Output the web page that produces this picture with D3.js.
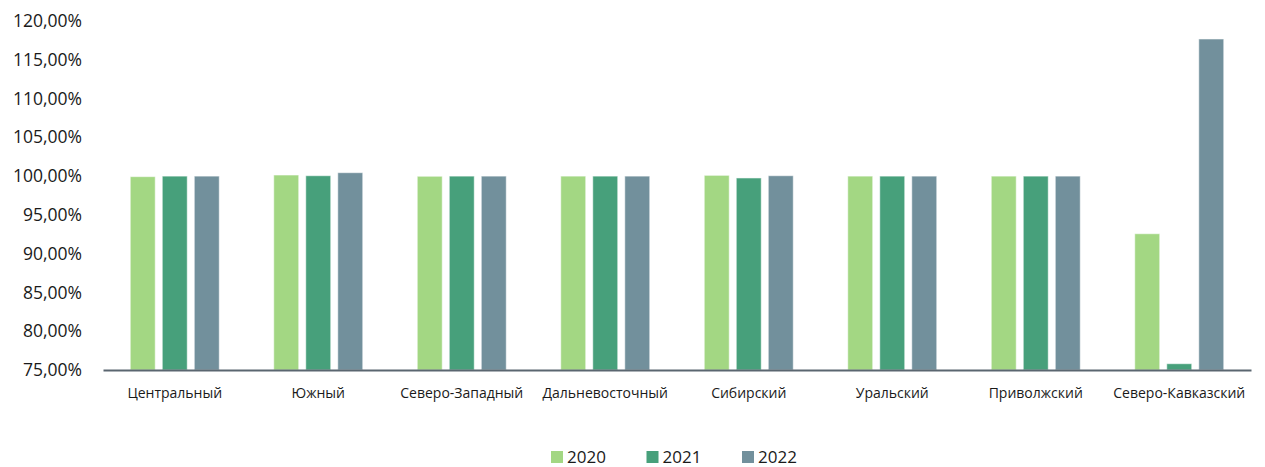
<html>
<head>
  <meta charset="utf-8">
  <title>Regions</title>
  <script src="https://d3js.org/d3.v7.min.js"></script>
  <style>
    body { margin: 0; background: #fff; }
    text { font-family: "Open Sans", sans-serif; fill: #1a1a1a; }
  </style>
</head>
<body>
  <div id="chart"></div>
  <script type="text/javascript">

    // data
    var regions = ['Центральный', 'Южный', 'Северо-Западный', 'Дальневосточный',
                   'Сибирский', 'Уральский', 'Приволжский', 'Северо-Кавказский'];
    var years = ['2020', '2021', '2022'];
    var v2020 = [99.93, 100.14, 99.98, 100.0, 100.10, 100.0, 100.0, 92.57];
    var v2021 = [100.0, 100.05, 100.0, 100.0, 99.76, 100.0, 100.0, 75.81];
    var v2022 = [100.0, 100.44, 100.0, 100.0, 100.05, 100.0, 100.0, 117.68];
    var yTicks = [75, 80, 85, 90, 95, 100, 105, 110, 115, 120];
    var colors = ['#a3d783', '#47a07b', '#72909c'];

    var series = [v2020, v2021, v2022];

    var width = 1265, height = 467;

    var svg = d3.select('#chart').append('svg')
                .attr('width', width)
                .attr('height', height);

    var x = d3.scaleBand().domain(regions).range([103, 1251]);
    var x1 = d3.scaleBand().domain(years).range([-44.5, 44.5]).paddingInner(0.22);
    var y = d3.scaleLinear().domain([75, 120]).range([370, 21]);
    var z = d3.scaleOrdinal().domain(years).range(colors);

    // y axis labels
    var yAxis = d3.axisLeft(y)
                  .tickValues(yTicks)
                  .tickSize(0)
                  .tickPadding(0)
                  .tickFormat(function(d) { return d3.format('.2f')(d).replace('.', ',') + '%'; });

    var gy = svg.append('g')
                .attr('transform', 'translate(82,0)')
                .call(yAxis);
    gy.select('.domain').remove();
    gy.selectAll('text')
      .style('font-family', '"Open Sans", sans-serif')
      .style('font-size', '17.5px')
      .attr('fill', '#1a1a1a');

    // bars
    var groups = svg.append('g')
                    .selectAll('g')
                    .data(regions)
                    .enter().append('g')
                      .attr('transform', function(d) { return 'translate(' + (x(d) + x.bandwidth() / 2) + ',0)'; });

    groups.selectAll('rect')
          .data(function(d, i) { return years.map(function(yr, j) { return {year: yr, value: series[j][i]}; }); })
          .enter().append('rect')
            .attr('x', function(d) { return x1(d.year); })
            .attr('y', function(d) { return y(d.value); })
            .attr('width', x1.bandwidth())
            .attr('height', function(d) { return y(75) - y(d.value); })
            .attr('fill', function(d) { return z(d.year); })
            .attr('stroke', 'rgba(255,255,255,0.55)')
            .attr('stroke-width', 1);

    // x axis
    var xAxis = d3.axisBottom(x).tickSize(0).tickPadding(0);
    var gx = svg.append('g')
                .attr('transform', 'translate(0,370)')
                .call(xAxis);
    gx.select('.domain')
      .attr('stroke', '#5a6670')
      .attr('stroke-width', 2);
    gx.selectAll('text')
      .attr('dy', 0)
      .attr('y', 28)
      .style('font-family', '"Open Sans", sans-serif')
      .style('font-size', '14px')
      .attr('fill', '#1a1a1a');

    // legend
    var legend = svg.append('g')
                    .selectAll('g')
                    .data(years)
                    .enter().append('g')
                      .attr('transform', function(d, i) { return 'translate(' + (551 + i * 95.5) + ',451)'; });

    legend.append('rect')
          .attr('width', 12)
          .attr('height', 12)
          .attr('fill', function(d) { return z(d); });

    legend.append('text')
          .attr('x', 16)
          .attr('y', 12)
          .style('font-size', '17px')
          .text(function(d) { return d; });

  </script>
</body>
</html>
